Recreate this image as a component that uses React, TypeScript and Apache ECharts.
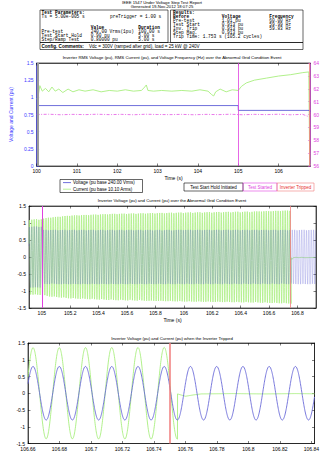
import React, { useEffect, useRef } from "react";
import * as echarts from "echarts";

// ---------- header texts ----------
const HEADER_TITLE = "IEEE 1547 Under Voltage Step Test Report";
const HEADER_DATE = "Generated 19-Nov-2012 18:07:25";
const TITLE_TOP = "Inverter RMS Voltage (pu), RMS Current (pu), and Voltage Frequency (Hz) over the Abnormal Grid Condition Event";
const TITLE_MID = "Inverter Voltage (pu) and Current (pu) over the Abnormal Grid Condition Event";
const TITLE_BOT = "Inverter Voltage (pu) and Current (pu) when the Inverter Tripped";

const PARAM_ROWS: [string, string, string][] = [
  ["Pre-test", "240.00 Vrms(1pu)", "100.00 s"],
  ["Test Start Hold", "0.90 pu", "5.00 s"],
  ["Step/Ramp Test", "0.80000 pu", "5.00 s"],
];
const RESULT_ROWS: [string, string, string][] = [
  ["Pre-test", "1.01 pu", "60.00 Hz"],
  ["Test Start", "0.913 pu", "59.99 Hz"],
  ["Inv. Trip", "0.913 pu", "59.83 Hz"],
  ["Step Mag.", "0.913 pu", ""],
];
const TRIP_TEXT = "Trip Time: 1.753 s (105.2 cycles)";
const CONFIG_LABEL = "Config. Comments:";
const CONFIG_TEXT = "Vdc = 300V (ramped after grid), load = 25 kW @ 240V";

// ---------- event times (s) ----------
const HOLD_TIME = 100.02;
const START_TIME = 105.0;
const TRIP_TIME = 106.755;

// ---------- top chart data ----------
const topRmsCurrent: [number, number][] = [
  [100.0, 0.98], [100.03, 0.99], [100.08, 1.17], [100.14, 1.09], [100.22, 1.13], [100.3, 1.08],
  [100.38, 1.15], [100.46, 1.09], [100.55, 1.12], [100.65, 1.07], [100.78, 1.12], [100.9, 1.08],
  [101.05, 1.11], [101.2, 1.09], [101.4, 1.11], [101.6, 1.08], [101.8, 1.1], [102.0, 1.09],
  [102.2, 1.11], [102.4, 1.09], [102.6, 1.1], [102.68, 1.15], [102.72, 1.18], [102.76, 1.1],
  [102.9, 1.09], [103.1, 1.1], [103.35, 1.09], [103.6, 1.1], [103.85, 1.09], [104.05, 1.11],
  [104.25, 1.09], [104.34, 1.04], [104.39, 1.02], [104.44, 1.08], [104.55, 1.12], [104.7, 1.08],
  [104.85, 1.11], [105.0, 1.1], [105.08, 1.16], [105.2, 1.21], [105.4, 1.25], [105.7, 1.28],
  [106.0, 1.31], [106.3, 1.33], [106.6, 1.36], [106.75, 1.37], [106.772, 0.02], [106.79, 0.02],
];
const topRmsVoltage: [number, number][] = [
  [100.0, 0.88], [104.999, 0.88], [105.001, 0.81], [106.755, 0.81], [106.77, 0.8], [106.79, 0.8],
];
const topFrequency: [number, number][] = [
  [100.0, 60.0], [100.3, 60.02], [100.6, 59.98], [100.9, 60.01], [101.2, 59.99], [101.5, 60.02],
  [101.8, 59.99], [102.1, 60.01], [102.4, 59.98], [102.7, 60.02], [103.0, 60.0], [103.3, 59.99],
  [103.6, 60.01], [103.9, 59.98], [104.2, 60.01], [104.5, 59.99], [104.8, 60.02], [105.1, 59.98],
  [105.4, 60.01], [105.7, 59.99], [106.0, 60.02], [106.3, 59.98], [106.6, 60.01], [106.75, 59.83],
  [106.79, 59.9],
];
const TOP_X_TICKS = [100, 101, 102, 103, 104, 105, 106];

// ---------- waveform parameters ----------
const LINE_FREQ_HZ = 60;
const PEAK_REF_TIME = 106.6632; // a common crest of both waveforms
const voltageAmplitude: [number, number][] = [
  [104.9, 0.9], [105.0, 0.9], [105.0, 0.8], [106.95, 0.8],
];
const currentAmplitude: [number, number][] = [
  [104.9, 1.1], [105.0, 1.12], [105.05, 1.16], [105.2, 1.22], [105.5, 1.27], [106.0, 1.31],
  [106.5, 1.34], [106.755, 1.37],
];
const currentAfterTrip: [number, number][] = [
  [106.755, -0.02], [106.76, -0.09], [106.765, -0.05], [106.77, -0.02], [106.79, -0.01],
  [106.81, -0.02], [106.83, -0.01], [106.85, -0.02], [106.95, -0.01],
];
const MID_X_TICKS = [105, 105.2, 105.4, 105.6, 105.8, 106, 106.2, 106.4, 106.6, 106.8];
const BOT_X_TICKS = [106.66, 106.68, 106.7, 106.72, 106.74, 106.76, 106.78, 106.8, 106.82, 106.84];

// ---------- colours ----------
const GREEN = "#a8ee7e";
const BLUE = "#4b4bd2";
const MAGENTA = "#e040e0";
const RED = "#f07d7d";
const GREY = "#9a9a9a";
const SANS = "Liberation Sans";
const MONO = "Liberation Mono";

function interp(pts: [number, number][], t: number): number {
  if (t <= pts[0][0]) return pts[0][1];
  for (let i = 0; i < pts.length - 1; i++) {
    const [t0, v0] = pts[i];
    const [t1, v1] = pts[i + 1];
    if (t >= t0 && t <= t1) {
      if (t1 === t0) return v1;
      return v0 + ((v1 - v0) * (t - t0)) / (t1 - t0);
    }
  }
  return pts[pts.length - 1][1];
}

function waveform(
  t0: number,
  t1: number,
  n: number,
  amp: [number, number][],
  cutoff?: number,
  residual?: [number, number][]
): [number, number][] {
  const times: number[] = [];
  for (let k = 0; k <= n; k++) times.push(t0 + ((t1 - t0) * k) / n);
  if (cutoff !== undefined) {
    times.push(cutoff, cutoff + 1e-6);
    times.sort((a, b) => a - b);
  }
  return times.map((t) => {
    if (cutoff !== undefined && residual && t > cutoff) return [t, interp(residual, t)];
    const a = interp(amp, t);
    return [t, a * Math.cos(2 * Math.PI * LINE_FREQ_HZ * (t - PEAK_REF_TIME))];
  });
}

const MID_MIN = 104.91;
const MID_MAX = 106.93;
const BOT_MIN = 106.66;
const BOT_MAX = 106.842;

const midVoltage = waveform(MID_MIN, MID_MAX, 3000, voltageAmplitude);
const midCurrent = waveform(MID_MIN, MID_MAX, 3000, currentAmplitude, TRIP_TIME, currentAfterTrip);
const botVoltage = waveform(BOT_MIN, BOT_MAX, 1200, voltageAmplitude);
const botCurrent = waveform(BOT_MIN, BOT_MAX, 1200, currentAmplitude, TRIP_TIME, currentAfterTrip);

function txt(
  text: string,
  x: number,
  y: number,
  o: { size?: number; family?: string; weight?: string; fill?: string; align?: string } = {}
) {
  return {
    type: "text",
    x,
    y,
    silent: true,
    style: {
      text,
      fontSize: o.size ?? 4.5,
      fontFamily: o.family ?? SANS,
      fontWeight: o.weight ?? "normal",
      fill: o.fill ?? "#000",
      align: o.align ?? "left",
      textAlign: o.align ?? "left",
      verticalAlign: "middle",
      textVerticalAlign: "middle",
    },
  };
}
function box(x: number, y: number, w: number, h: number, stroke = "#000", lw = 0.6) {
  return { type: "rect", silent: true, shape: { x, y, width: w, height: h }, style: { fill: "none", stroke, lineWidth: lw } };
}
function seg(x1: number, y1: number, x2: number, y2: number, stroke: string, lw = 0.8) {
  return { type: "line", silent: true, shape: { x1, y1, x2, y2 }, style: { stroke, lineWidth: lw } };
}

const axisText = { fontSize: 5, fontFamily: SANS, color: "#000" };

function xAxisDef(grid: number, min: number, max: number, ticks: number[], pos: "bottom" | "top", showLabel: boolean, name = "") {
  return {
    type: "value",
    gridIndex: grid,
    position: pos,
    min,
    max,
    name,
    nameLocation: "middle",
    nameGap: 9,
    nameTextStyle: { fontSize: 5, fontFamily: SANS, color: "#000" },
    axisLine: { show: true, onZero: false, lineStyle: { color: "#000", width: 0.6 } },
    axisTick: { show: true, inside: true, length: 2.5, customValues: ticks, lineStyle: { color: "#000", width: 0.5 } },
    axisLabel: { show: showLabel, margin: 2.5, customValues: ticks, ...axisText },
    splitLine: { show: false },
  };
}
function yAxisDef(grid: number, min: number, max: number, interval: number, pos: "left" | "right", showLabel: boolean, color = "#000") {
  return {
    type: "value",
    gridIndex: grid,
    position: pos,
    min,
    max,
    interval,
    axisLine: { show: true, onZero: false, lineStyle: { color, width: 0.6 } },
    axisTick: { show: true, inside: true, length: 2.5, lineStyle: { color, width: 0.5 } },
    axisLabel: { show: showLabel, margin: 3, ...axisText, color },
    splitLine: { show: false },
  };
}

const topYAxis = {
  ...yAxisDef(0, 0, 1.5, 0.25, "left", true, "#3a3aff"),
  name: "Voltage and Current (pu)",
  nameLocation: "middle",
  nameGap: 15,
  nameRotate: 90,
  nameTextStyle: { fontSize: 5, fontFamily: SANS, color: "#3a3aff" },
};

const vline = (x: number, color: string, width: number) => ({
  xAxis: x,
  lineStyle: { color, width, type: "solid" },
});

const option: any = {
  animation: false,
  backgroundColor: "#fff",
  textStyle: { fontFamily: SANS },
  grid: [
    { left: 30, top: 63, width: 281, height: 103, show: true, borderColor: "#000", borderWidth: 0.6, backgroundColor: "#fff" },
    { left: 29, top: 206, width: 287, height: 102, show: true, borderColor: "#000", borderWidth: 0.6, backgroundColor: "#fff" },
    { left: 28, top: 343, width: 288, height: 102, show: true, borderColor: "#000", borderWidth: 0.6, backgroundColor: "#fff" },
  ],
  xAxis: [
    xAxisDef(0, 100, 106.79, TOP_X_TICKS, "bottom", true, "Time (s)"),
    xAxisDef(0, 100, 106.79, TOP_X_TICKS, "top", false),
    xAxisDef(1, MID_MIN, MID_MAX, MID_X_TICKS, "bottom", true, "Time (s)"),
    xAxisDef(1, MID_MIN, MID_MAX, MID_X_TICKS, "top", false),
    xAxisDef(2, BOT_MIN, BOT_MAX, BOT_X_TICKS, "bottom", true),
    xAxisDef(2, BOT_MIN, BOT_MAX, BOT_X_TICKS, "top", false),
  ],
  yAxis: [
    topYAxis,
    yAxisDef(0, 56, 64, 1, "right", true, MAGENTA),
    yAxisDef(1, -1.5, 1.5, 0.5, "left", true),
    yAxisDef(1, -1.5, 1.5, 0.5, "right", false),
    yAxisDef(2, -1.5, 1.5, 0.5, "left", true),
    yAxisDef(2, -1.5, 1.5, 0.5, "right", false),
  ],
  series: [
    {
      type: "line", xAxisIndex: 0, yAxisIndex: 0, data: topRmsCurrent, showSymbol: false, symbol: "none",
      lineStyle: { color: GREEN, width: 0.9 }, z: 3,
      markLine: {
        silent: true, symbol: ["none", "none"], label: { show: false }, animation: false,
        data: [vline(HOLD_TIME, GREY, 2), vline(START_TIME, MAGENTA, 0.8), vline(TRIP_TIME, RED, 0.8)],
      },
    },
    {
      type: "line", xAxisIndex: 0, yAxisIndex: 0, data: topRmsVoltage, showSymbol: false, symbol: "none",
      lineStyle: { color: BLUE, width: 0.8 }, z: 3,
    },
    {
      type: "line", xAxisIndex: 0, yAxisIndex: 1, data: topFrequency, showSymbol: false, symbol: "none",
      lineStyle: { color: MAGENTA, width: 0.7, type: [3, 1.5, 1, 1.5] }, z: 3,
    },
    {
      type: "line", xAxisIndex: 2, yAxisIndex: 2, data: midCurrent, showSymbol: false, symbol: "none",
      lineStyle: { color: GREEN, width: 0.75 }, z: 2,
      markLine: {
        silent: true, symbol: ["none", "none"], label: { show: false }, animation: false,
        data: [vline(START_TIME, MAGENTA, 1), vline(TRIP_TIME, RED, 0.8)],
      },
    },
    {
      type: "line", xAxisIndex: 2, yAxisIndex: 2, data: midVoltage, showSymbol: false, symbol: "none",
      lineStyle: { color: BLUE, width: 0.4, opacity: 0.6 }, z: 3,
    },
    {
      type: "line", xAxisIndex: 4, yAxisIndex: 4, data: botCurrent, showSymbol: false, symbol: "none",
      lineStyle: { color: GREEN, width: 0.9 }, z: 2,
      markLine: {
        silent: true, symbol: ["none", "none"], label: { show: false }, animation: false,
        data: [vline(TRIP_TIME, RED, 1.5)],
      },
    },
    {
      type: "line", xAxisIndex: 4, yAxisIndex: 4, data: botVoltage, showSymbol: false, symbol: "none",
      lineStyle: { color: "#6a6ad8", width: 0.9 }, z: 3,
    },
  ],
  graphic: [
    txt(HEADER_TITLE, 162, 2, { align: "center", size: 4.2 }),
    txt(HEADER_DATE, 162, 6.8, { align: "center", size: 4.2 }),
    box(40, 10, 128, 32.5),
    box(170.5, 10, 132.5, 32.5),
    box(40, 42.5, 263, 7),
    txt("Test Parameters:", 41.5, 12.3, { family: MONO, weight: "bold" }),
    txt("Ts = 5.00e-005 s", 41.5, 16.3, { family: MONO }),
    txt("preTrigger = 1.00 s", 110, 16.3, { family: MONO }),
    txt("Value", 90.7, 27.5, { family: MONO, weight: "bold" }),
    txt("Duration", 138.3, 27.5, { family: MONO, weight: "bold" }),
    ...PARAM_ROWS.flatMap((r, i) => [
      txt(r[0], 41.5, 31.6 + i * 4, { family: MONO }),
      txt(r[1], 90.7, 31.6 + i * 4, { family: MONO }),
      txt(r[2], 138.3, 31.6 + i * 4, { family: MONO }),
    ]),
    txt("Results:", 173, 12.3, { family: MONO, weight: "bold" }),
    txt("Before", 173, 16.4, { family: MONO, weight: "bold" }),
    txt("Voltage", 221.7, 16.4, { family: MONO, weight: "bold" }),
    txt("Frequency", 269.3, 16.4, { family: MONO, weight: "bold" }),
    ...RESULT_ROWS.flatMap((r, i) => [
      txt(r[0], 173, 20.5 + i * 4, { family: MONO }),
      txt(r[1], 221.7, 20.5 + i * 4, { family: MONO }),
      txt(r[2], 269.3, 20.5 + i * 4, { family: MONO }),
    ]),
    txt(TRIP_TEXT, 173, 36.5, { family: MONO }),
    txt(CONFIG_LABEL, 41.5, 46, { weight: "bold", size: 4.6 }),
    txt(CONFIG_TEXT, 89, 46, { size: 4.6 }),
    txt(TITLE_TOP, 172, 57.5, { align: "center", size: 4.3 }),
    txt(TITLE_MID, 172, 200, { align: "center", size: 4.3 }),
    txt(TITLE_BOT, 172, 338.5, { align: "center", size: 4.3 }),
    // legend (series)
    box(60, 179.5, 82.5, 13),
    seg(63, 182.6, 71, 182.6, BLUE),
    txt("Voltage (pu base 240.00 Vrms)", 73, 182.6, { size: 4.5 }),
    seg(63, 189.2, 71, 189.2, GREEN),
    txt("Current (pu base 10.10 Arms)", 73, 189.2, { size: 4.5 }),
    // legend (events)
    box(184, 183, 59, 8, "#000"),
    box(243, 183, 34, 8, MAGENTA),
    box(277, 183, 37, 8, RED),
    txt("Test Start Hold Initiated", 213.5, 187, { align: "center", size: 4.5 }),
    txt("Test Started", 260, 187, { align: "center", size: 4.5, fill: MAGENTA }),
    txt("Inverter Tripped", 295.5, 187, { align: "center", size: 4.5, fill: "#e83030" }),
  ],
};

export default function App() {
  const ref = useRef<HTMLDivElement>(null);
  useEffect(() => {
    if (!ref.current) return;
    const chart = echarts.init(ref.current, undefined, { renderer: "svg" });
    chart.setOption(option);
    return () => chart.dispose();
  }, []);
  return (
    <div
      ref={ref}
      style={{ position: "absolute", left: 0, top: 0, width: 322, height: 451, background: "#fff" }}
    />
  );
}
